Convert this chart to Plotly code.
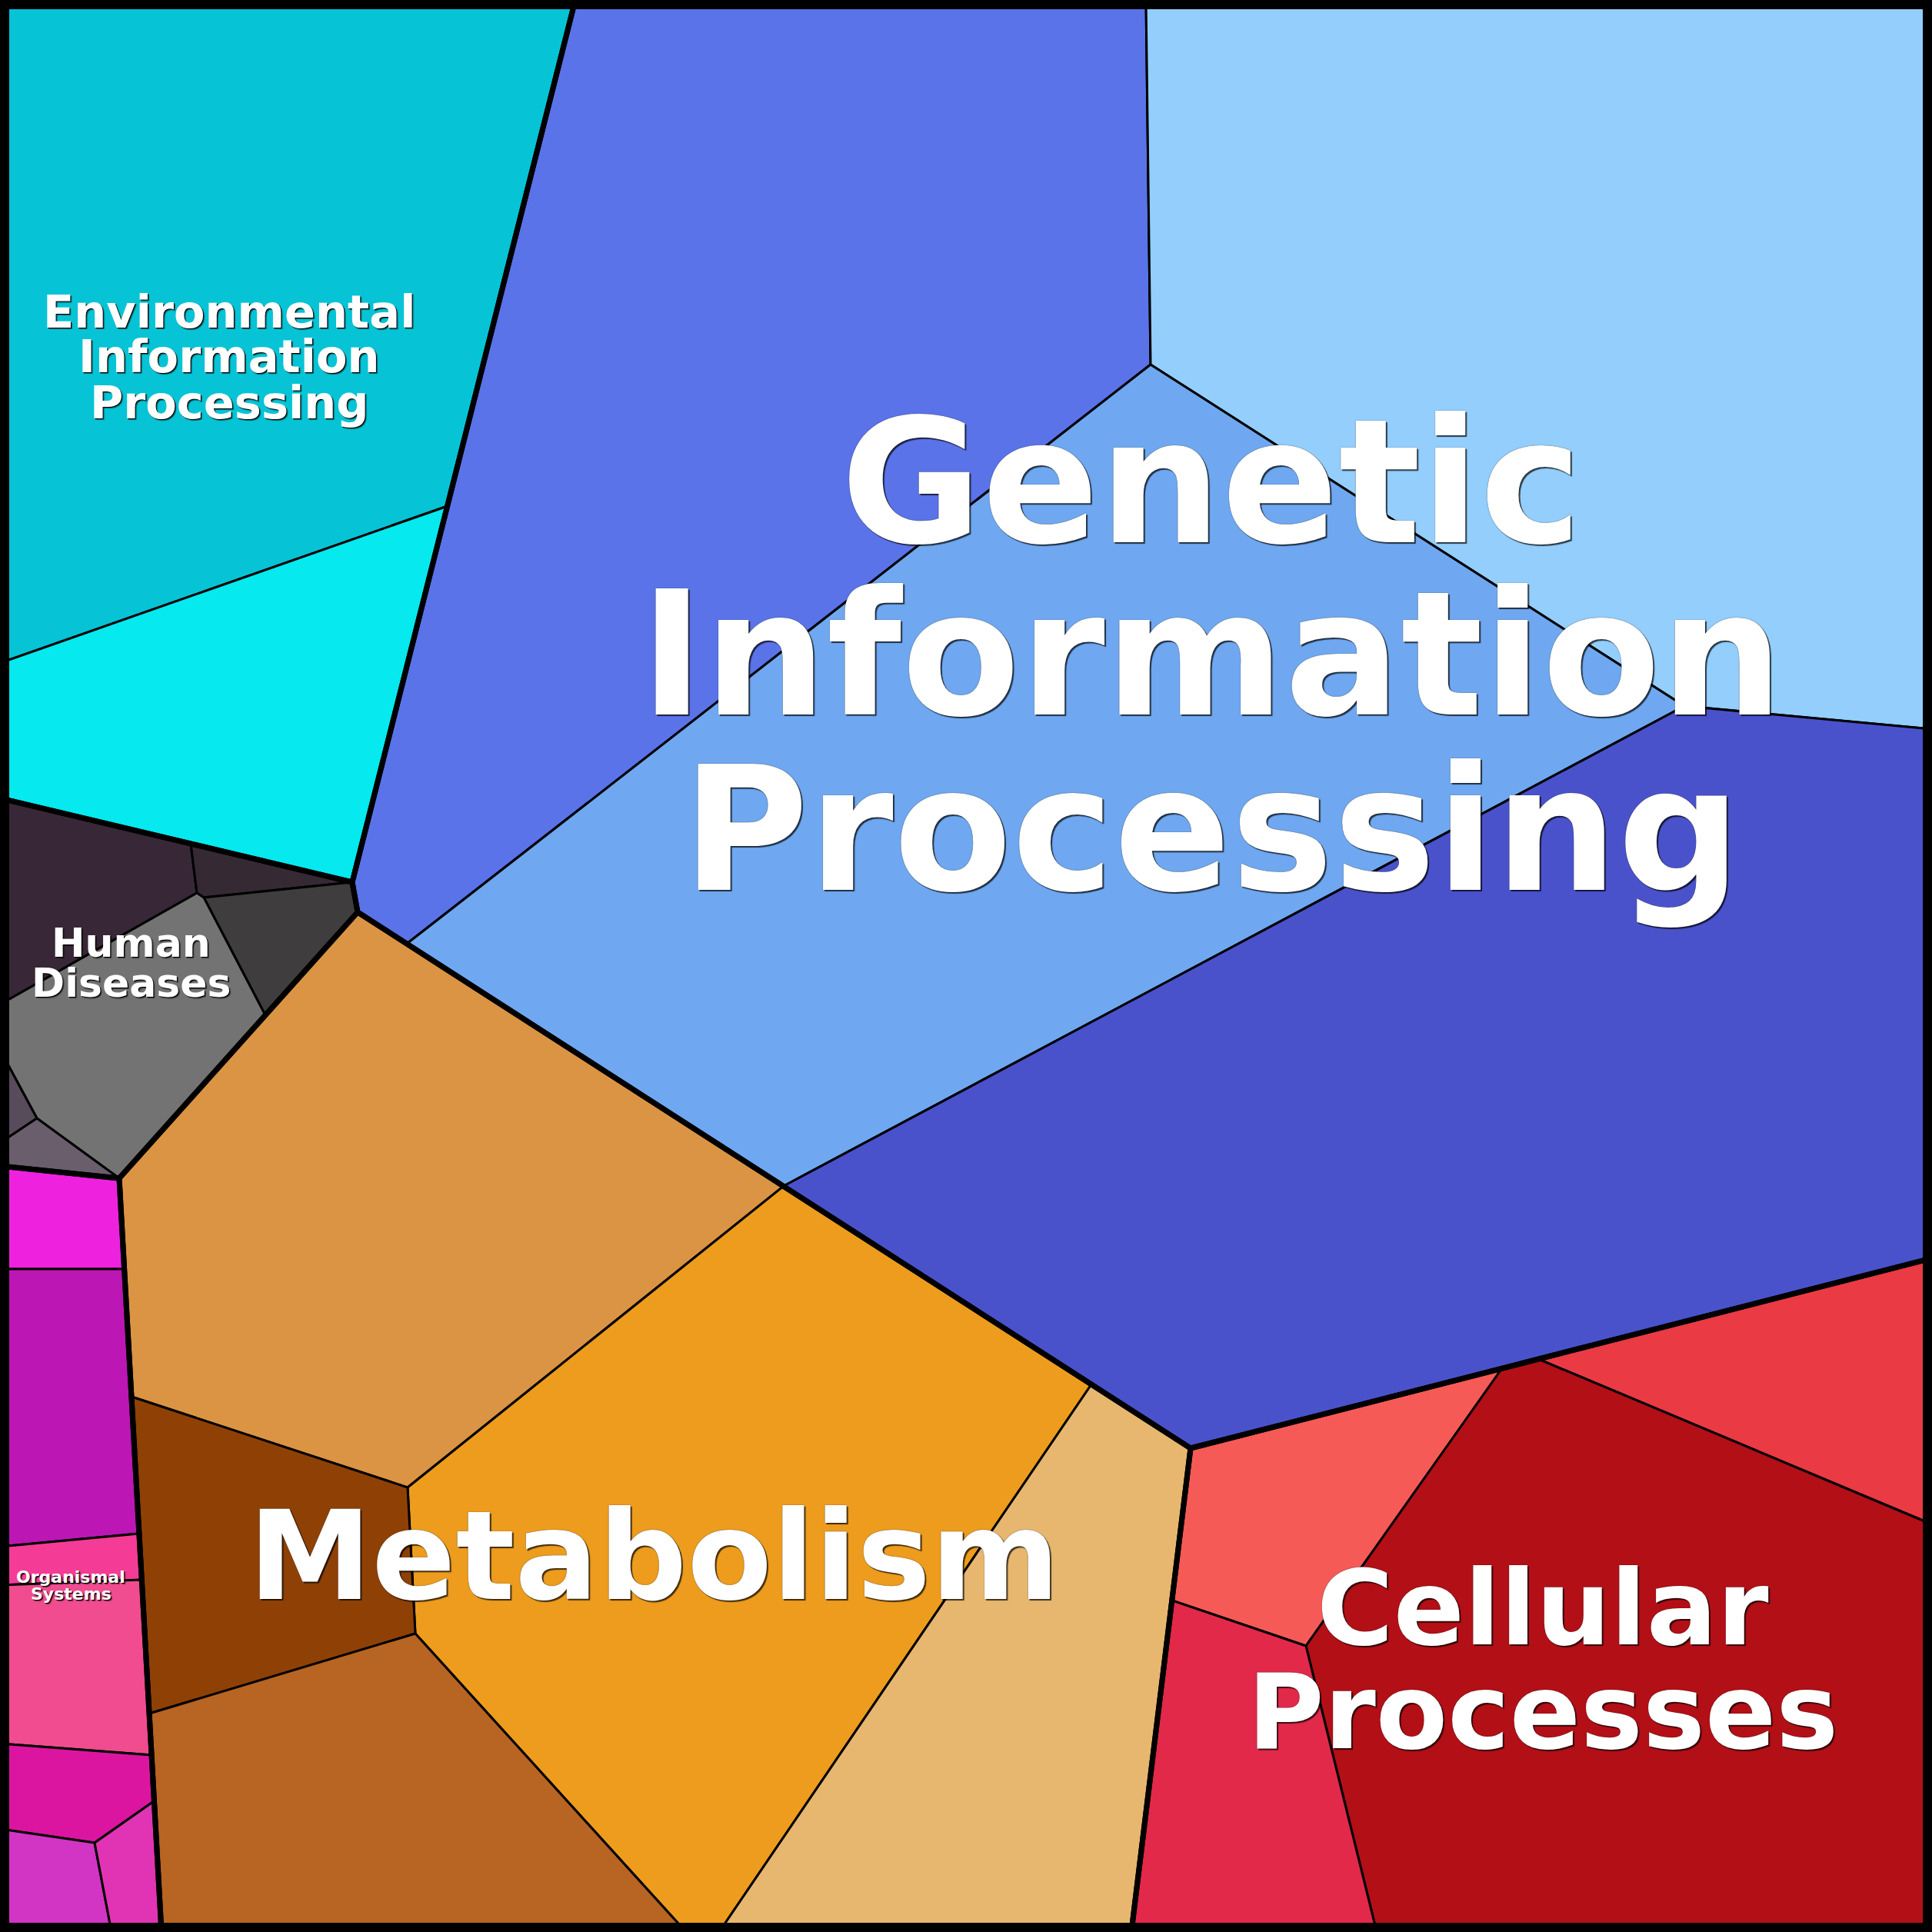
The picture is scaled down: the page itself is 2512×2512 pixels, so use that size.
import plotly.graph_objects as go

# ---- Voronoi-treemap geometry (junction points, pixel units) ----
points = {
    "A0": (0, 0), "A1": (748, 0), "A2": (1490, 0), "A3": (2512, 0),
    "E0": (0, 862), "E1": (582, 658), "L1": (0, 1038),
    "P1": (458, 1147), "P2": (465, 1186),
    "G1": (1496, 474), "G2": (2190, 918), "G3": (2512, 948), "G4": (529, 1227),
    "G5": (1019, 1542), "G6": (2512, 1636), "J": (1548, 1883),
    "M2": (1419, 1800), "M3": (530, 1934), "M4": (171, 1816), "M5": (540, 2124),
    "M6": (194, 2228), "M7": (892, 2512), "M8": (935, 2512), "MB": (1471, 2512), "MA": (210, 2512),
    "C1": (1953, 1779), "C2": (2000, 1767), "C3": (2512, 1982), "C4": (1698, 2140),
    "C5": (1524, 2081), "C6": (1790, 2512), "C7": (2512, 2512),
    "H1": (248, 1097), "H2": (256, 1161), "H3": (265, 1167), "H4": (345, 1320),
    "H5": (0, 1306), "H6": (0, 1365), "H7": (48, 1454), "H8": (0, 1486),
    "HB": (0, 1516), "HC": (155, 1532),
    "O0": (0, 1650), "O1": (162, 1650), "O2": (181, 1994), "O3": (0, 2011),
    "O4": (184, 2054), "O5": (0, 2061), "O6": (197, 2282), "O7": (0, 2267),
    "O8": (200, 2342), "O9": (123, 2396), "O10": (0, 2378), "O11": (145, 2512), "O12": (0, 2512),
}

categories = ["Environmental Information Processing", "Genetic Information Processing",
              "Metabolism", "Cellular Processes", "Human Diseases", "Organismal Systems"]

category_outlines = [
    ["A0", "A1", "P1", "L1"],
    ["A1", "A3", "G6", "J", "P2", "P1"],
    ["P2", "J", "MB", "MA", "HC"],
    ["J", "G6", "C7", "MB"],
    ["L1", "P1", "P2", "HC", "HB"],
    ["HB", "HC", "MA", "O12"],
]

sub_cells = [
    # Environmental Information Processing
    (0, "#06c4d5", ["A0", "A1", "E1", "E0"]),
    (0, "#05e9ef", ["E0", "E1", "P1", "L1"]),
    # Genetic Information Processing
    (1, "#5a73e8", ["A1", "A2", "G1", "G4", "P2", "P1"]),
    (1, "#93cefc", ["A2", "A3", "G3", "G2", "G1"]),
    (1, "#6fa8f0", ["G1", "G2", "G5", "G4"]),
    (1, "#4a52cb", ["G2", "G3", "G6", "J", "G5"]),
    # Metabolism
    (2, "#da9443", ["P2", "G5", "M3", "M4", "HC"]),
    (2, "#ed9c1e", ["G5", "M2", "M8", "M7", "M5", "M3"]),
    (2, "#e7b76f", ["M2", "J", "MB", "M8"]),
    (2, "#8f4105", ["M4", "M3", "M5", "M6"]),
    (2, "#b86422", ["M6", "M5", "M7", "MA"]),
    # Cellular Processes
    (3, "#f65a57", ["J", "C1", "C4", "C5"]),
    (3, "#ea3a44", ["C2", "G6", "C3"]),
    (3, "#b30f17", ["C1", "C2", "C3", "C7", "C6", "C4"]),
    (3, "#e2294a", ["C5", "C4", "C6", "MB"]),
    # Human Diseases
    (4, "#382837", ["L1", "H1", "H2", "H5"]),
    (4, "#352a33", ["H1", "P1", "H3", "H2"]),
    (4, "#3f3d3e", ["H3", "P1", "P2", "H4"]),
    (4, "#747374", ["H5", "H2", "H3", "H4", "HC", "H7", "H6"]),
    (4, "#574b5c", ["H6", "H7", "H8"]),
    (4, "#6a5e6d", ["H8", "H7", "HC", "HB"]),
    # Organismal Systems
    (5, "#ee22de", ["HB", "HC", "O1", "O0"]),
    (5, "#bc16b4", ["O0", "O1", "O2", "O3"]),
    (5, "#f43c96", ["O3", "O2", "O4", "O5"]),
    (5, "#f04c8f", ["O5", "O4", "O6", "O7"]),
    (5, "#dc15a0", ["O7", "O6", "O8", "O9", "O10"]),
    (5, "#d234c4", ["O10", "O9", "O11", "O12"]),
    (5, "#e134b4", ["O9", "O8", "MA", "O11"]),
]

# ---- labels ----
label_lines = [
    ["Environmental", "Information", "Processing"],
    ["Genetic", "Information", "Processing"],
    ["Metabolism"],
    ["Cellular", "Processes"],
    ["Human", "Diseases"],
    ["Organismal", "Systems"],
]
label_x = [298, 1575, 850, 2006, 170, 92]
label_baselines = [[427, 485, 545], [708, 932, 1160], [2081], [2140, 2275], [1245, 1297], [2058, 2080]]
label_sizes = [59, 224, 161, 136, 52, 22]


def closed(ids):
    xs = [points[i][0] for i in ids] + [points[ids[0]][0]]
    ys = [points[i][1] for i in ids] + [points[ids[0]][1]]
    return xs, ys


fig = go.Figure()

for grp, color, ids in sub_cells:
    xs, ys = closed(ids)
    fig.add_trace(go.Scatter(x=xs, y=ys, mode="lines", fill="toself", fillcolor=color,
                             line=dict(color="black", width=3), hoverinfo="skip",
                             showlegend=False, name=categories[grp]))

for ids in category_outlines:
    xs, ys = closed(ids)
    fig.add_trace(go.Scatter(x=xs, y=ys, mode="lines", line=dict(color="black", width=7),
                             hoverinfo="skip", showlegend=False))

annotations = []
for lines, cx, bases, size in zip(label_lines, label_x, label_baselines, label_sizes):
    big = size >= 120
    shadow = ("0px 0px 1px #000, 2px 2px 1px rgba(0,0,0,0.7)" if big
              else "1px 1px 0px #000, 2px 2px 1px rgba(0,0,0,0.5)")
    for text, base in zip(lines, bases):
        annotations.append(dict(
            x=cx, y=base - 0.36 * size, xref="x", yref="y", text=text, showarrow=False,
            xanchor="center", yanchor="middle",
            font=dict(family="DejaVu Sans", size=size, color="white", weight=700, shadow=shadow),
        ))

fig.update_layout(
    width=2512, height=2512,
    margin=dict(l=0, r=0, t=0, b=0),
    paper_bgcolor="black", plot_bgcolor="black",
    xaxis=dict(range=[0, 2512], visible=False, fixedrange=True),
    yaxis=dict(range=[2512, 0], visible=False, fixedrange=True),
    annotations=annotations,
    shapes=[dict(type="rect", xref="paper", yref="paper", x0=0, y0=0, x1=1, y1=1,
                 line=dict(color="black", width=24), fillcolor="rgba(0,0,0,0)")],
)

fig.write_html("out.html", config={"displayModeBar": False},
               post_script="document.body.style.margin='0';document.body.style.overflow='hidden';")
